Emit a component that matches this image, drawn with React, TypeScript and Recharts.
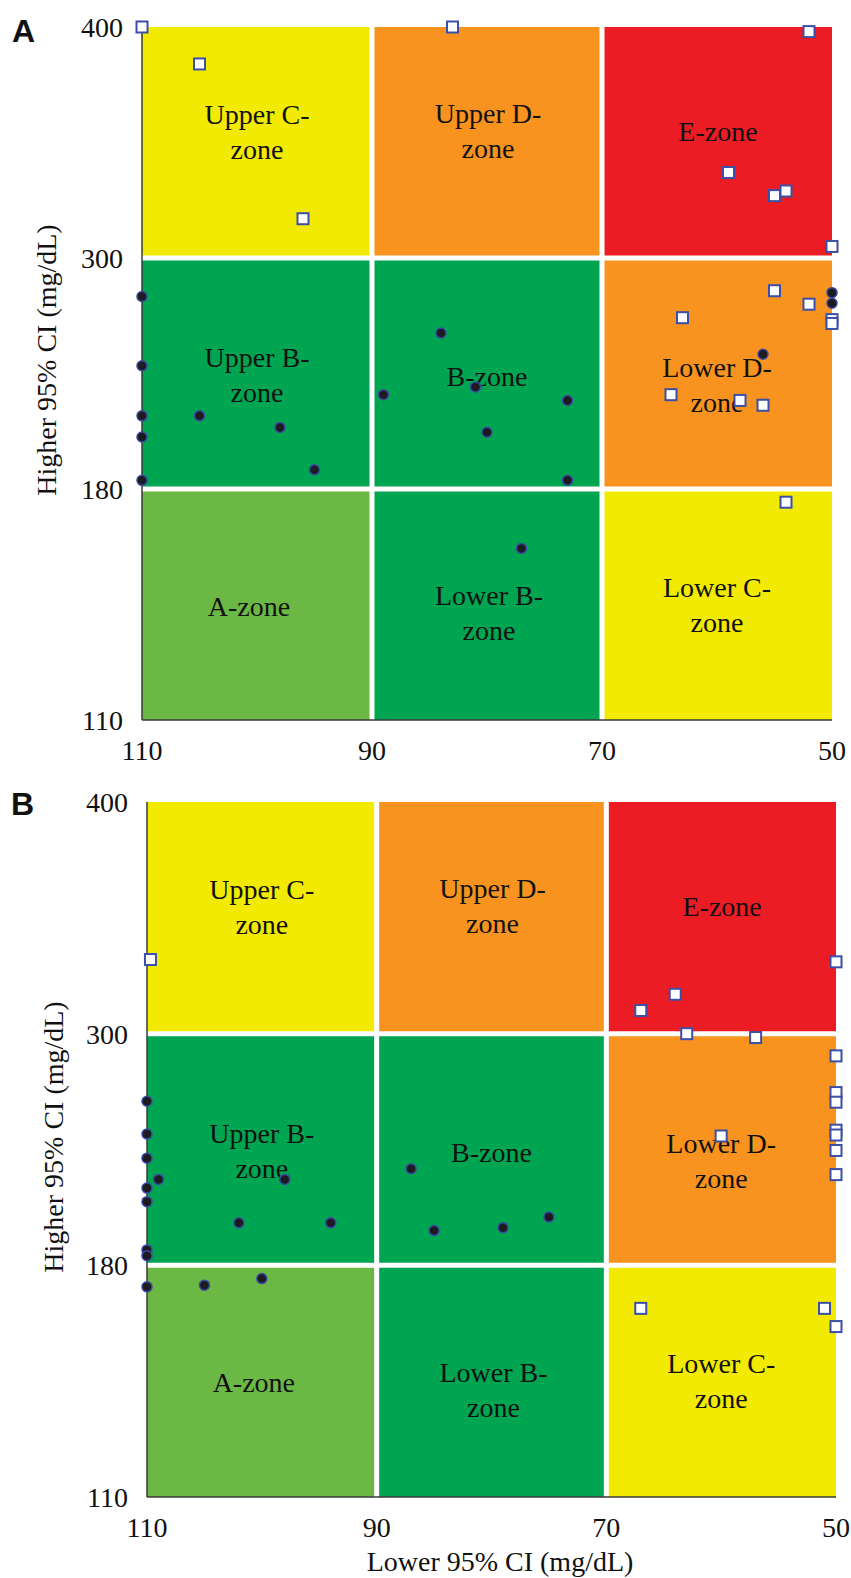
import { ScatterChart, Scatter, XAxis, YAxis, ReferenceArea, ReferenceLine } from 'recharts';

// axis ticks (mg/dL)
const xTicks = [110, 90, 70, 50];
const yTicks = [110, 180, 300, 400];

// zone names, rows bottom -> top, columns 110 -> 50
const zoneNames = [
  [['A-zone'], ['Lower B-', 'zone'], ['Lower C-', 'zone']],
  [['Upper B-', 'zone'], ['B-zone'], ['Lower D-', 'zone']],
  [['Upper C-', 'zone'], ['Upper D-', 'zone'], ['E-zone']],
];

// [lower 95% CI, higher 95% CI] pairs
const panelASquares: [number, number][] = [
  [110, 400], [105, 384], [96, 317], [83, 400], [52, 398], [59, 337],
  [54, 329], [55, 327], [50, 305], [55, 283], [52, 276], [50, 268],
  [50, 266], [63, 269], [64, 229], [58, 226], [56, 223.5], [54, 176],
];
const panelACircles: [number, number][] = [
  [110, 280], [110, 244], [110, 218], [105, 218], [98, 212], [110, 207],
  [95, 190], [110, 184.5], [89, 229], [50, 282], [50, 276.5], [84, 261],
  [56, 250], [81, 233], [73, 226], [80, 209.5], [73, 184.5], [77, 162],
];
const panelBSquares: [number, number][] = [
  [109.7, 332], [50, 331], [64, 317], [67, 310], [63, 300], [57, 298],
  [50, 288.5], [50, 269.5], [50, 264.5], [50, 250], [50, 247.5], [60, 247],
  [50, 239.5], [50, 227], [67, 167], [51, 167], [50, 161.5],
];
const panelBCircles: [number, number][] = [
  [110, 265], [110, 248], [110, 235.5], [109, 224.5], [98, 224.5], [110, 220],
  [110, 213], [102, 202], [94, 202], [110, 188], [110, 185], [110, 173.5],
  [105, 174], [100, 176], [87, 230], [85, 198], [79, 199.5], [75, 205],
];

const zoneColors = [
  ['#6cb844', '#00a551', '#f2ea00'],
  ['#00a551', '#00a551', '#f7931e'],
  ['#f2ea00', '#f7931e', '#ec1c24'],
];
// [dx, dy] nudge of each zone label from the zone centre
const labelShift = [
  [[-8, 11], [2, 18], [0, 9.5]],
  [[0, 11], [0, 12], [0, 21]],
  [[0, -1], [1, -2], [1, -1.5]],
];

const serif = '"Liberation Serif", "Times New Roman", serif';
const ink = '#111';

// y axis is split into three equal bands: 110-180, 180-300, 300-400
const toZone = (v: number) => {
  for (let i = 0; i < yTicks.length - 1; i++) {
    if (v <= yTicks[i + 1]) return i + (v - yTicks[i]) / (yTicks[i + 1] - yTicks[i]);
  }
  return yTicks.length - 1;
};

const SquareMark = (p: any) => (
  <rect x={p.cx - 5.5} y={p.cy - 5.5} width={11} height={11} fill="#fff" stroke="#3c4fa6" strokeWidth={2} />
);
const DotMark = (p: any) => (
  <circle cx={p.cx} cy={p.cy} r={5} fill="#1b1b20" stroke="#3b4aa0" strokeWidth={1.5} />
);

function zoneLabel(lines: string[], dx: number, dy: number) {
  return (p: any) => {
    const vb = p.viewBox;
    const cx = vb.x + vb.width / 2 + dx;
    const cy = vb.y + vb.height / 2 + dy;
    return (
      <text textAnchor="middle" fontFamily={serif} fontSize={28} fill={ink}>
        {lines.map((l, i) => (
          <tspan key={i} x={cx} y={cy - ((lines.length - 1) * 35) / 2 + i * 35}>
            {l}
          </tspan>
        ))}
      </text>
    );
  };
}

interface PanelProps {
  squares: [number, number][];
  circles: [number, number][];
  height: number;
  margin: { top: number; right: number; bottom: number; left: number };
}

function Panel({ squares, circles, height, margin }: PanelProps) {
  const sq = squares.map(([x, y]) => ({ x, z: toZone(y) }));
  const ci = circles.map(([x, y]) => ({ x, z: toZone(y) }));
  const tick = { fontSize: 28, fill: ink, fontFamily: serif };
  const axisLine = { stroke: '#3a3a3a', strokeWidth: 1.5 };

  return (
    <ScatterChart width={851} height={height} margin={margin}>
      {zoneNames.map((row, r) =>
        row.map((lines, c) => (
          <ReferenceArea
            key={`${r}-${c}`}
            x1={xTicks[c]}
            x2={xTicks[c + 1]}
            y1={r}
            y2={r + 1}
            fill={zoneColors[r][c]}
            fillOpacity={1}
            stroke="none"
            label={zoneLabel(lines, labelShift[r][c][0], labelShift[r][c][1])}
          />
        ))
      )}
      <ReferenceLine x={90} stroke="#fff" strokeWidth={5} />
      <ReferenceLine x={70} stroke="#fff" strokeWidth={5} />
      <ReferenceLine y={1} stroke="#fff" strokeWidth={5} />
      <ReferenceLine y={2} stroke="#fff" strokeWidth={5} />
      <XAxis
        type="number"
        dataKey="x"
        domain={[50, 110]}
        reversed
        ticks={xTicks}
        interval={0}
        height={40}
        tick={tick}
        tickLine={false}
        tickSize={8}
        tickMargin={12}
        axisLine={axisLine}
      />
      <YAxis
        type="number"
        dataKey="z"
        domain={[0, 3]}
        ticks={[0, 1, 2, 3]}
        interval={0}
        width={60}
        tick={tick}
        tickFormatter={(i: number) => String(yTicks[i])}
        tickLine={false}
        tickSize={8}
        tickMargin={11}
        axisLine={axisLine}
      />
      <Scatter data={sq} shape={SquareMark} isAnimationActive={false} />
      <Scatter data={ci} shape={DotMark} isAnimationActive={false} />
    </ScatterChart>
  );
}

export default function App() {
  return (
    <div style={{ position: 'absolute', left: 0, top: 0, width: 851, height: 1578, background: '#fff' }}>
      <div style={{ position: 'absolute', left: 0, top: 0 }}>
        <Panel
          squares={panelASquares}
          circles={panelACircles}
          height={780}
          margin={{ top: 27, right: 19, bottom: 20, left: 82 }}
        />
      </div>
      <div style={{ position: 'absolute', left: 0, top: 775 }}>
        <Panel
          squares={panelBSquares}
          circles={panelBCircles}
          height={803}
          margin={{ top: 27, right: 15, bottom: 41, left: 87 }}
        />
      </div>
      <svg width={851} height={1578} style={{ position: 'absolute', left: 0, top: 0, pointerEvents: 'none' }}>
        <text x={12} y={42} fontFamily='"Liberation Sans", Arial, sans-serif' fontWeight="bold" fontSize={32} fill={ink}>
          A
        </text>
        <text x={11} y={815} fontFamily='"Liberation Sans", Arial, sans-serif' fontWeight="bold" fontSize={32} fill={ink}>
          B
        </text>
        <text x={56} y={360} transform="rotate(-90, 56, 360)" textAnchor="middle" fontFamily={serif} fontSize={28} fill={ink}>
          Higher 95% CI (mg/dL)
        </text>
        <text x={63} y={1137} transform="rotate(-90, 63, 1137)" textAnchor="middle" fontFamily={serif} fontSize={28} fill={ink}>
          Higher 95% CI (mg/dL)
        </text>
        <text x={500} y={1571} textAnchor="middle" fontFamily={serif} fontSize={28} fill={ink}>
          Lower 95% CI (mg/dL)
        </text>
      </svg>
    </div>
  );
}
